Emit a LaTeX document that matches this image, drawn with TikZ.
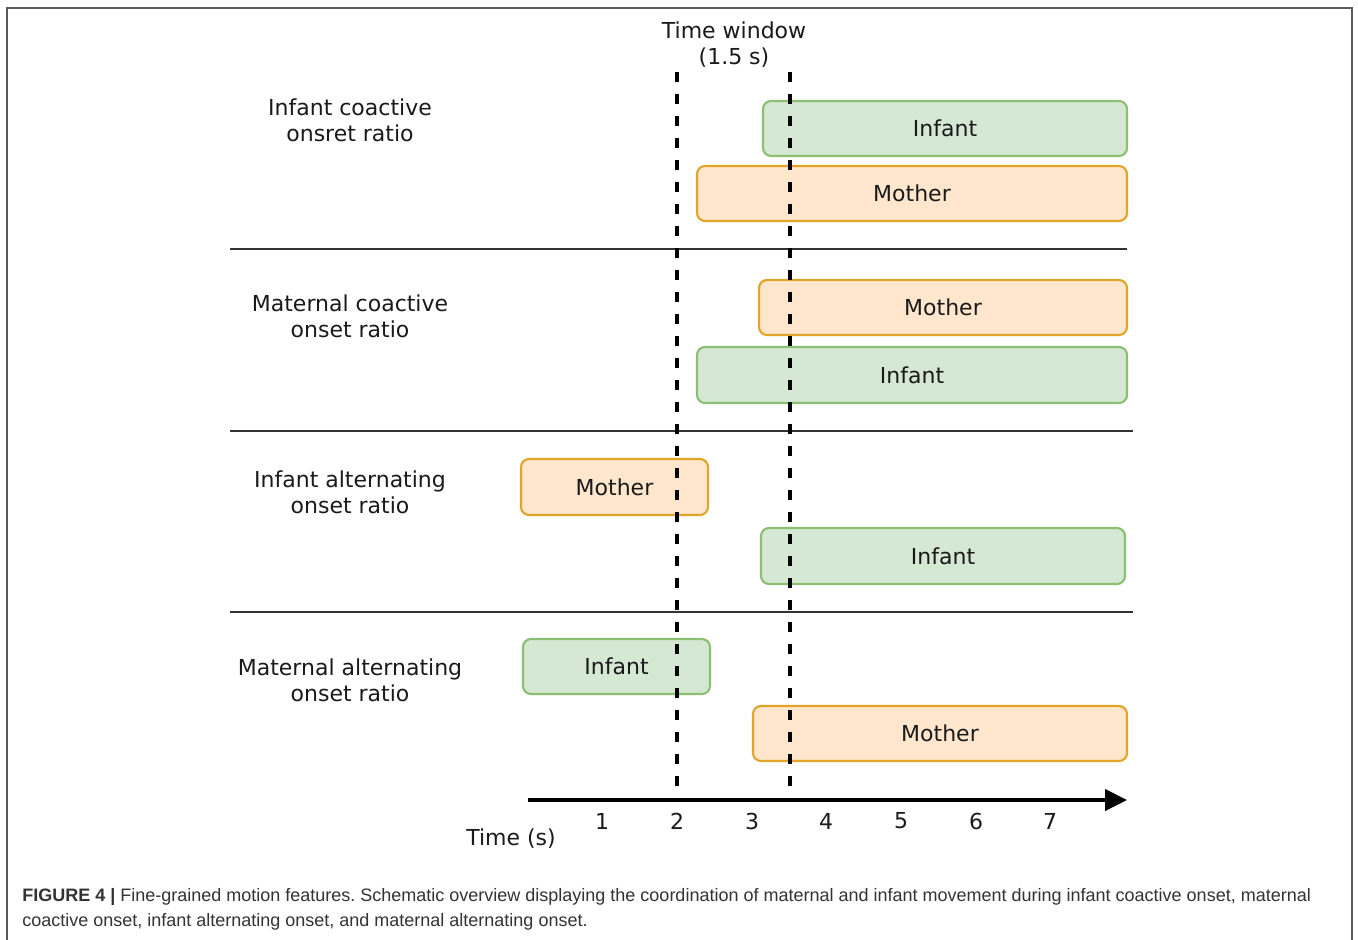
\documentclass[tikz,border=0pt]{standalone}
\usepackage{fontspec}
\setmainfont{DejaVu Sans}
\newfontfamily\capfont{Liberation Sans}
\usetikzlibrary{arrows.meta}
\definecolor{gfill}{HTML}{D5E8D4}
\definecolor{gdraw}{HTML}{8CBF72}
\definecolor{ofill}{HTML}{FFE6CC}
\definecolor{odraw}{HTML}{E2A52A}
\definecolor{txt}{HTML}{1A1A1A}
\definecolor{frame}{HTML}{5A5A5A}
\definecolor{sep}{HTML}{333333}
\definecolor{captxt}{HTML}{333333}
\newcommand{\bx}[7]{\node[#6, minimum width={(#4-#2)*0.75pt}, minimum height={(#5-#3)*0.75pt}] (#1) at ({(#2+#4)/2},{(#3+#5)/2}) {#7};}
\frenchspacing
\begin{document}
\begin{tikzpicture}[x=0.75pt,y=-0.75pt,
  base/.style={rectangle, rounded corners=6pt, line width=1.6pt, inner sep=0pt, text=txt,
     font=\fontsize{16.5pt}{19.5pt}\selectfont},
  ibox/.style={base, draw=gdraw, fill=gfill},
  obox/.style={base, draw=odraw, fill=ofill},
  rowlabel/.style={align=center, text=txt, font=\fontsize{16.5pt}{19.5pt}\selectfont, inner sep=0pt},
  ticklab/.style={text=txt, font=\fontsize{16.5pt}{19.5pt}\selectfont, inner sep=0pt},
  winline/.style={line width=2.5pt, dash pattern=on 7.5pt off 9pt, black},
  sepline/.style={line width=1.5pt, draw=sep},
  capline/.style={anchor=base west, inner sep=0pt, text=captxt, font=\capfont\fontsize{13.5pt}{16pt}\selectfont}
]
\useasboundingbox (0,0) rectangle (1358,939);
\fill[white] (0,0) rectangle (1358,939);
% frame
\draw[frame, line width=1.2pt] (7,945) -- (7,8) -- (1352,8) -- (1352,945);

% separators
\coordinate (s1a) at (230,249); \coordinate (s1b) at (1127,249);
\coordinate (s2a) at (230,431); \coordinate (s2b) at (1133,431);
\coordinate (s3a) at (230,612); \coordinate (s3b) at (1133,612);
\draw[sepline] (s1a) -- (s1b);
\draw[sepline] (s2a) -- (s2b);
\draw[sepline] (s3a) -- (s3b);

% row labels
\node[rowlabel] (l1) at (350,120) {Infant coactive\\onsret ratio};
\node[rowlabel] (l2) at (350,316) {Maternal coactive\\onset ratio};
\node[rowlabel] (l3) at (350,492) {Infant alternating\\onset ratio};
\node[rowlabel] (l4) at (350,680) {Maternal alternating\\onset ratio};

% boxes
\bx{r1i}{763}{101}{1127}{156}{ibox}{Infant}
\bx{r1m}{697}{166}{1127}{221}{obox}{Mother}
\bx{r2m}{759}{280}{1127}{335}{obox}{Mother}
\bx{r2i}{697}{347}{1127}{403}{ibox}{Infant}
\bx{r3m}{521}{459}{708}{515}{obox}{Mother}
\bx{r3i}{761}{528}{1125}{584}{ibox}{Infant}
\bx{r4i}{523}{639}{710}{694}{ibox}{Infant}
\bx{r4m}{753}{706}{1127}{761}{obox}{Mother}

% time window
\node[rowlabel] (tw) at (734,45) {Time window\\(1.5 s)};
\coordinate (w1t) at (677,72); \coordinate (w1b) at (677,800);
\coordinate (w2t) at (790,72); \coordinate (w2b) at (790,800);
\draw[winline] (w1t) -- (w1b);
\draw[winline] (w2t) -- (w2b);

% axis
\coordinate (ax0) at (528,800); \coordinate (ax1) at (1127,800);
\draw[line width=2.4pt, -{Triangle[length=16.5pt,width=16pt]}] (ax0) -- (ax1);
\foreach \n/\x in {1/602,2/677,3/752,4/826,5/901,6/976,7/1050}{
  \node[ticklab] (t\n) at (\x,821) {\n};
}
\node[ticklab] (tlab) at (511,839) {Time (s)};

% caption
\node[capline] (c1) at (22,901) {\textbf{FIGURE 4 |} Fine-grained motion features. Schematic overview displaying the coordination of maternal and infant movement during infant coactive onset, maternal};
\node[capline] (c2) at (22,926) {coactive onset, infant alternating onset, and maternal alternating onset.};
\end{tikzpicture}
\end{document}
